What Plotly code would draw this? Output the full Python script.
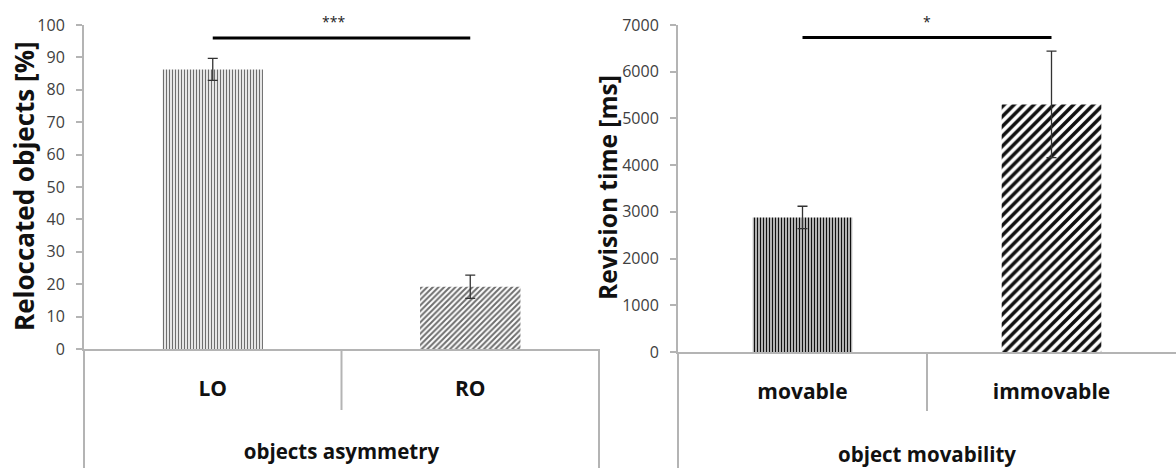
import plotly.graph_objects as go

# ---- data ----
left_categories = ["LO", "RO"]
left_values = [86.3, 19.2]
left_errors = [3.4, 3.6]
left_yticks = [0, 10, 20, 30, 40, 50, 60, 70, 80, 90, 100]

right_categories = ["movable", "immovable"]
right_values = [2880, 5300]
right_errors = [240, 1140]
right_yticks = [0, 1000, 2000, 3000, 4000, 5000, 6000, 7000]

left_sig_y = 96
right_sig_y = 6730
left_sig_label = "***"
right_sig_label = "*"

# ---- layout geometry (paper fractions) ----
W, H = 1176, 468
def px(x):
    return x / W
def py(y):
    return 1 - y / H

LX0, LX1 = px(84), px(599)
RX0, RX1 = px(678), 1.0
LY0, LY1 = py(349), py(25)
RY0, RY1 = py(352), py(25)

AXIS_COL = "#B4B4B4"
TICK_FONT = dict(family="Open Sans", size=16, color="#404040")
CAT_FONT = dict(family="Open Sans", size=21, color="#111111", weight="bold")
TITLE_FONT = dict(family="Open Sans", size=20.5, color="#111111", weight="bold")

fig = go.Figure()

err_style = dict(type="data", visible=True, color="#333333", thickness=1.3, width=5)

# left bars
fig.add_trace(go.Bar(
    x=[left_categories[0]], y=[left_values[0]],
    error_y=dict(array=[left_errors[0]], **err_style),
    width=0.39, xaxis="x", yaxis="y",
    marker=dict(color="white", line=dict(width=0),
                pattern=dict(shape="|", fgcolor="#6e6e6e", bgcolor="white", fgopacity=1,
                             size=3, solidity=0.45)),
    showlegend=False,
))
fig.add_trace(go.Bar(
    x=[left_categories[1]], y=[left_values[1]],
    error_y=dict(array=[left_errors[1]], **err_style),
    width=0.39, xaxis="x", yaxis="y",
    marker=dict(color="white", line=dict(width=0),
                pattern=dict(shape="/", fgcolor="#6e6e6e", bgcolor="white", fgopacity=1,
                             size=4, solidity=0.5)),
    showlegend=False,
))
# right bars
fig.add_trace(go.Bar(
    x=[right_categories[0]], y=[right_values[0]],
    error_y=dict(array=[right_errors[0]], **err_style),
    width=0.40, xaxis="x2", yaxis="y2",
    marker=dict(color="white", line=dict(width=0),
                pattern=dict(shape="|", fgcolor="#111111", bgcolor="white", fgopacity=1,
                             size=3, solidity=0.55)),
    showlegend=False,
))
fig.add_trace(go.Bar(
    x=[right_categories[1]], y=[right_values[1]],
    error_y=dict(array=[right_errors[1]], **err_style),
    width=0.40, xaxis="x2", yaxis="y2",
    marker=dict(color="white", line=dict(width=0),
                pattern=dict(shape="/", fgcolor="#111111", bgcolor="white", fgopacity=1,
                             size=7, solidity=0.5)),
    showlegend=False,
))

# significance lines
fig.add_trace(go.Scatter(
    x=left_categories, y=[left_sig_y, left_sig_y], mode="lines",
    line=dict(color="black", width=3), xaxis="x", yaxis="y", showlegend=False, hoverinfo="skip"))
fig.add_trace(go.Scatter(
    x=right_categories, y=[right_sig_y, right_sig_y], mode="lines",
    line=dict(color="black", width=3), xaxis="x2", yaxis="y2", showlegend=False, hoverinfo="skip"))

fig.add_annotation(x=0.47, y=left_sig_y, xref="x", yref="y", text=left_sig_label,
                   showarrow=False, yshift=16, font=dict(family="Open Sans", size=14, color="#222"))
fig.add_annotation(x=0.5, y=right_sig_y, xref="x2", yref="y2", text=right_sig_label,
                   showarrow=False, yshift=16, font=dict(family="Open Sans", size=14, color="#222"))

# y-axis titles as rotated annotations (exact placement)
fig.add_annotation(x=px(24), y=py(186), xref="paper", yref="paper", text="Reloccated objects [%]",
                   textangle=-90, showarrow=False, xanchor="center", yanchor="middle",
                   font=dict(family="Open Sans", size=26, color="#111111", weight="bold"))
fig.add_annotation(x=px(607), y=py(188), xref="paper", yref="paper", text="Revision time [ms]",
                   textangle=-90, showarrow=False, xanchor="center", yanchor="middle",
                   font=dict(family="Open Sans", size=24.5, color="#111111", weight="bold"))

xaxis_common = dict(
    type="category", range=[-0.5, 1.5], showline=True, linecolor=AXIS_COL, linewidth=2,
    ticks="", showgrid=False, zeroline=False, tickfont=CAT_FONT, ticklabelstandoff=20,
    title_font=TITLE_FONT, title_standoff=43, automargin=False,
)
yaxis_common = dict(
    showline=True, linecolor=AXIS_COL, linewidth=2, ticks="outside", ticklen=6,
    tickcolor=AXIS_COL, tickwidth=1.5, showgrid=False, zeroline=False, tickfont=TICK_FONT,
    ticklabelstandoff=8, automargin=False,
)

fig.update_layout(
    width=W, height=H, margin=dict(l=0, r=0, t=0, b=0),
    paper_bgcolor="white", plot_bgcolor="white",
    barmode="overlay",
    xaxis=dict(domain=[LX0, LX1], anchor="y", title_text="objects asymmetry", **xaxis_common),
    yaxis=dict(domain=[LY0, LY1], anchor="x", range=[0, 100], tickvals=left_yticks,
               **yaxis_common),
    xaxis2=dict(domain=[RX0, RX1], anchor="y2", title_text="object movability", **xaxis_common),
    yaxis2=dict(domain=[RY0, RY1], anchor="x2", range=[0, 7000], tickvals=right_yticks,
                **yaxis_common),
)

line = dict(color=AXIS_COL, width=2)
# left chart frame extensions
fig.add_shape(type="line", xref="paper", yref="paper", x0=LX0, x1=LX0, y0=0, y1=LY0, line=line)
fig.add_shape(type="line", xref="paper", yref="paper", x0=LX1, x1=LX1, y0=0, y1=LY0, line=line)
fig.add_shape(type="line", xref="x", yref="paper", x0=0.5, x1=0.5, y0=py(410), y1=LY0, line=line)
# right chart frame extensions
fig.add_shape(type="line", xref="paper", yref="paper", x0=RX0, x1=RX0, y0=0, y1=RY0, line=line)
fig.add_shape(type="line", xref="x2", yref="paper", x0=0.5, x1=0.5, y0=py(411), y1=RY0, line=line)

fig.write_html("out.html")
